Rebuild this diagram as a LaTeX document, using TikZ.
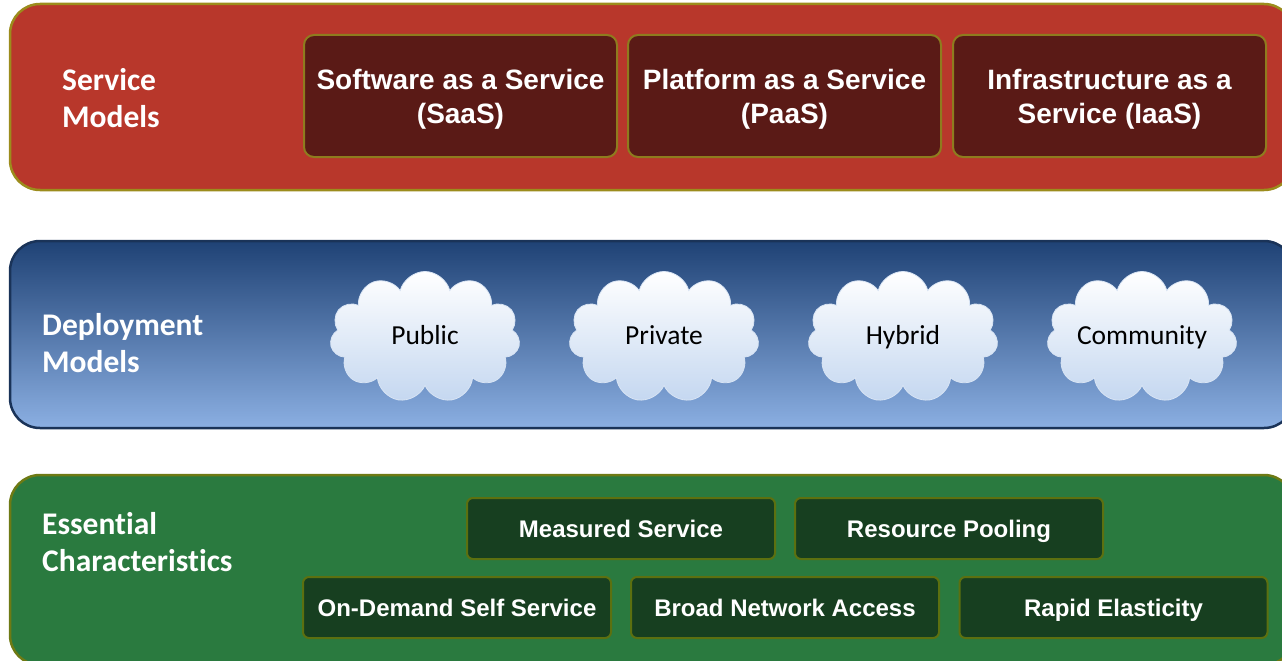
\documentclass[tikz,border=0pt]{standalone}
\usepackage{fontspec}
\setmainfont{Liberation Sans}
\newfontfamily\calibri[Ligatures=NoCommon]{Carlito}
\usetikzlibrary{shapes.symbols}

\definecolor{redband}{HTML}{B8372B}
\definecolor{rededge}{HTML}{9C8C1C}
\definecolor{svcfill}{HTML}{5A1A16}
\definecolor{svcedge}{HTML}{8E7C1E}
\definecolor{bluetop}{HTML}{1F4275}
\definecolor{bluebot}{HTML}{8BAFE2}
\definecolor{blueedge}{HTML}{1A3358}
\definecolor{cloudlow}{HTML}{C4D7F0}
\definecolor{cloudedge}{HTML}{D8E4F4}
\definecolor{greenband}{HTML}{2A7A3F}
\definecolor{greenedge}{HTML}{6E7A14}
\definecolor{charfill}{HTML}{173F20}
\definecolor{charedge}{HTML}{5C7010}

\tikzset{
  band/.style={rounded corners=30pt, line width=2.5pt, inner sep=0pt,
    minimum width=1284pt},
  bandlabel/.style={anchor=west, align=left, text=white, inner sep=0pt,
    font=\calibri\bfseries\fontsize{31.5}{37}\selectfont},
  svcbox/.style={draw=svcedge, fill=svcfill, rounded corners=10pt,
    line width=2pt, minimum width=313pt, minimum height=122pt},
  svctext/.style={text=white, align=center, inner sep=0pt, yshift=-3.5pt,
    font=\bfseries\fontsize{28}{34}\selectfont},
  charbox/.style={draw=charedge, fill=charfill, rounded corners=6pt,
    line width=2pt, minimum width=308pt, minimum height=61pt, text=white,
    text height=22pt, text depth=5pt,
    font=\bfseries\fontsize{24}{28}\selectfont},
  cloudnode/.style={cloud, cloud puffs=11, aspect=1.46, minimum width=190pt,
    minimum height=131pt, top color=white, bottom color=cloudlow,
    draw=cloudedge, line width=0.8pt, text=black, inner sep=0pt,
    text height=20pt, text depth=6pt,
    font=\calibri\fontsize{27.5}{33}\selectfont}
}
% zero-width box so every cloud keeps the same size whatever its word
\newcommand{\cloudlabel}[1]{\makebox[0pt]{#1}}

\begin{document}
\begin{tikzpicture}[x=1pt, y=-1pt]
  \useasboundingbox (0,0) rectangle (1282,661);

  % Service models band
  \node[band, draw=rededge, fill=redband, minimum height=186pt]
    (svcband) at (652,97) {};
  \node[bandlabel] (svclabel) at (62,98.5) {Service\\Models};
  \node[svcbox] (saas) at (460.5,96) {};
  \node[svcbox] (paas) at (784.5,96) {};
  \node[svcbox] (iaas) at (1109.5,96) {};
  \node[svctext] (saastext) at (saas.center) {Software as a Service\\(SaaS)};
  \node[svctext] (paastext) at (paas.center) {Platform as a Service\\(PaaS)};
  \node[svctext] (iaastext) at (iaas.center) {Infrastructure as a\\Service (IaaS)};

  % Deployment models band
  \node[band, draw=blueedge, top color=bluetop, bottom color=bluebot,
    minimum height=187pt] (depband) at (652,334.5) {};
  \node[bandlabel] (deplabel) at (42,343.5) {Deployment\\Models};
  \node[cloudnode] (public)    at (425,337)  {\cloudlabel{Public}};
  \node[cloudnode] (private)   at (664,337)  {\cloudlabel{Private}};
  \node[cloudnode] (hybrid)    at (903,337)  {\cloudlabel{Hybrid}};
  \node[cloudnode] (community) at (1142,337) {\cloudlabel{Community}};

  % Essential characteristics band
  \node[band, draw=greenedge, fill=greenband, minimum height=190pt]
    (charband) at (652,570) {};
  \node[bandlabel] (charlabel) at (42,542.5) {Essential\\Characteristics};
  \node[charbox] (measured) at (621,528.5)    {Measured Service};
  \node[charbox] (pooling)  at (949,528.5)    {Resource Pooling};
  \node[charbox] (ondemand) at (457,607.5)    {On-Demand Self Service};
  \node[charbox] (network)  at (785,607.5)    {Broad Network Access};
  \node[charbox] (elastic)  at (1113.5,607.5) {Rapid Elasticity};
\end{tikzpicture}
\end{document}
